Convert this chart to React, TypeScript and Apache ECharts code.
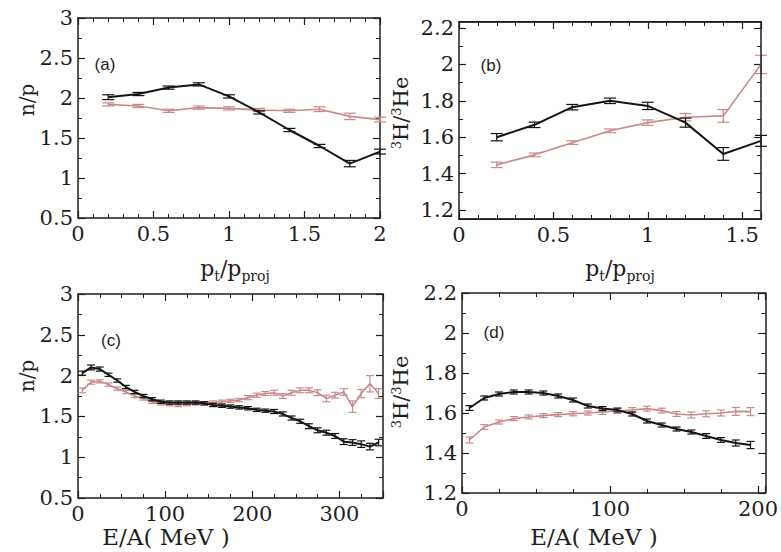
import React, { useEffect, useRef } from 'react';
import * as echarts from 'echarts';

// ---------- data ----------
// (a) n/p vs pt/pproj
const ptA = [0.2, 0.4, 0.6, 0.8, 1.0, 1.2, 1.4, 1.6, 1.8, 2.0];
const npA_black = [2.01, 2.05, 2.13, 2.17, 2.02, 1.82, 1.60, 1.40, 1.18, 1.33];
const npA_blackErr = [0.03, 0.02, 0.02, 0.02, 0.02, 0.02, 0.02, 0.02, 0.04, 0.03];
const npA_red = [1.92, 1.90, 1.84, 1.88, 1.87, 1.85, 1.84, 1.86, 1.77, 1.73];
const npA_redErr = [0.02, 0.02, 0.02, 0.02, 0.02, 0.02, 0.02, 0.03, 0.04, 0.03];

// (b) 3H/3He vs pt/pproj
const ptB = [0.2, 0.4, 0.6, 0.8, 1.0, 1.2, 1.4, 1.6];
const thB_black = [1.60, 1.668, 1.765, 1.80, 1.772, 1.68, 1.508, 1.58];
const thB_blackErr = [0.02, 0.015, 0.015, 0.015, 0.02, 0.025, 0.035, 0.03];
const thB_red = [1.448, 1.503, 1.57, 1.635, 1.68, 1.71, 1.717, 2.0];
const thB_redErr = [0.015, 0.01, 0.01, 0.01, 0.015, 0.02, 0.035, 0.05];

// (c) n/p vs E/A
const eC = [5, 15, 25, 35, 45, 55, 65, 75, 85, 95, 105, 115, 125, 135, 145, 155, 165, 175,
  185, 195, 205, 215, 225, 235, 245, 255, 265, 275, 285, 295, 305, 315, 325, 335, 345];
const npC_black = [2.03, 2.10, 2.08, 2.01, 1.94, 1.86, 1.80, 1.75, 1.71, 1.68, 1.67, 1.67, 1.67,
  1.67, 1.66, 1.64, 1.63, 1.62, 1.61, 1.60, 1.58, 1.57, 1.56, 1.53, 1.48, 1.44, 1.38, 1.33, 1.30,
  1.26, 1.19, 1.18, 1.16, 1.13, 1.18];
const npC_blackErr = [0.025, 0.03, 0.025, 0.02, 0.02, 0.02, 0.02, 0.02, 0.02, 0.02, 0.02, 0.02,
  0.02, 0.02, 0.02, 0.02, 0.02, 0.02, 0.02, 0.02, 0.02, 0.02, 0.025, 0.025, 0.025, 0.025, 0.03,
  0.03, 0.03, 0.03, 0.035, 0.035, 0.04, 0.04, 0.04];
const npC_red = [1.82, 1.92, 1.93, 1.89, 1.84, 1.80, 1.75, 1.72, 1.68, 1.66, 1.65, 1.64, 1.65,
  1.66, 1.66, 1.67, 1.68, 1.69, 1.70, 1.73, 1.76, 1.78, 1.79, 1.75, 1.79, 1.82, 1.82, 1.79, 1.72,
  1.76, 1.80, 1.62, 1.78, 1.90, 1.78];
const npC_redErr = [0.03, 0.025, 0.02, 0.02, 0.02, 0.02, 0.02, 0.02, 0.02, 0.02, 0.02, 0.02, 0.02,
  0.02, 0.02, 0.02, 0.02, 0.02, 0.02, 0.025, 0.025, 0.025, 0.03, 0.03, 0.03, 0.03, 0.03, 0.035,
  0.04, 0.035, 0.04, 0.07, 0.05, 0.1, 0.06];

// (d) 3H/3He vs E/A
const eD = [5, 15, 25, 35, 45, 55, 65, 75, 85, 95, 105, 115, 125, 135, 145, 155, 165, 175, 185, 195];
const thD_black = [1.625, 1.675, 1.695, 1.705, 1.705, 1.70, 1.685, 1.665, 1.635, 1.622, 1.615,
  1.595, 1.56, 1.54, 1.52, 1.505, 1.485, 1.465, 1.45, 1.44];
const thD_blackErr = [0.012, 0.01, 0.01, 0.01, 0.01, 0.01, 0.01, 0.01, 0.01, 0.01, 0.01, 0.01,
  0.01, 0.01, 0.01, 0.01, 0.012, 0.012, 0.015, 0.018];
const thD_red = [1.465, 1.53, 1.555, 1.572, 1.58, 1.587, 1.592, 1.596, 1.60, 1.605, 1.61, 1.615,
  1.622, 1.612, 1.595, 1.59, 1.596, 1.60, 1.608, 1.607];
const thD_redErr = [0.015, 0.012, 0.01, 0.01, 0.01, 0.01, 0.01, 0.01, 0.01, 0.012, 0.012, 0.012,
  0.012, 0.012, 0.012, 0.015, 0.015, 0.015, 0.02, 0.02];

// axis ranges / ticks: [min, max, interval, minor splits]
const xRangeA = [0, 2, 0.5, 5];
const yRangeA = [0.5, 3, 0.5, 2];
const xRangeB = [0, 1.6, 0.5, 5];
const yRangeB = [1.2, 2.2, 0.2, 2];
const xRangeC = [0, 350, 100, 4];
const yRangeC = [0.5, 3, 0.5, 2];
const xRangeD = [0, 205, 100, 4];
const yRangeD = [1.2, 2.2, 0.2, 2];

const FONT = 'DejaVu Serif';
const INK = '#1e1e1e';
const BLACK = '#151515';
const RED = '#c98a8a';

function fmt(interval: number) {
  return (v: number) => {
    const r = v / interval;
    return Math.abs(r - Math.round(r)) < 1e-6 ? String(+v.toFixed(3)) : '';
  };
}

function mkAxis(gridIndex: number, position: string, range: number[], showLabel: boolean, offset = 0, showLine = true) {
  const [min, max, interval, minorSplit] = range;
  return {
    type: 'value',
    gridIndex,
    position,
    min,
    max,
    interval,
    offset,
    axisLine: { show: showLine, onZero: false, lineStyle: { color: INK, width: 1.5 } },
    axisTick: { show: true, inside: true, length: 7, lineStyle: { color: INK, width: 1.2 } },
    minorTick: { show: true, splitNumber: minorSplit, length: 4, lineStyle: { color: INK, width: 1 } },
    splitLine: { show: false },
    minorSplitLine: { show: false },
    axisLabel: {
      show: showLabel,
      margin: 5,
      fontFamily: FONT,
      fontSize: 21,
      color: INK,
      formatter: fmt(interval),
    },
  };
}

function lineSeries(idx: number, xs: number[], ys: number[], color: string, width: number, z: number) {
  return {
    type: 'line',
    xAxisIndex: idx * 2,
    yAxisIndex: idx * 2,
    data: xs.map((x, i) => [x, ys[i]]),
    symbol: 'none',
    lineStyle: { color, width },
    silent: true,
    z,
  };
}

function errSeries(idx: number, xs: number[], ys: number[], errs: number[], color: string, cap: number, z: number) {
  return {
    type: 'custom',
    xAxisIndex: idx * 2,
    yAxisIndex: idx * 2,
    data: xs.map((x, i) => [x, ys[i] - errs[i], ys[i] + errs[i]]),
    encode: { x: 0, y: [1, 2] },
    silent: true,
    z,
    renderItem: (_params: any, api: any) => {
      const x = api.value(0);
      const top = api.coord([x, api.value(2)]);
      const bot = api.coord([x, api.value(1)]);
      const style = { stroke: color, lineWidth: 1.2 };
      return {
        type: 'group',
        children: [
          { type: 'line', shape: { x1: top[0], y1: top[1], x2: bot[0], y2: bot[1] }, style },
          { type: 'line', shape: { x1: top[0] - cap, y1: top[1], x2: top[0] + cap, y2: top[1] }, style },
          { type: 'line', shape: { x1: bot[0] - cap, y1: bot[1], x2: bot[0] + cap, y2: bot[1] }, style },
        ],
      };
    },
  };
}

const subRich = {
  m: { fontFamily: FONT, fontSize: 22, color: INK },
  s: { fontFamily: FONT, fontSize: 14, color: INK, padding: [15, 0, 0, 0] },
};
const supRich = {
  m: { fontFamily: FONT, fontSize: 21, color: INK, lineHeight: 24, verticalAlign: 'top' },
  s: { fontFamily: FONT, fontSize: 13, color: INK, lineHeight: 8, verticalAlign: 'top' },
};

function title(x: number, y: number, text: string, rich: any, rotate = false) {
  return {
    type: 'text',
    x,
    y,
    rotation: rotate ? Math.PI / 2 : 0,
    style: { text, rich, align: 'center', verticalAlign: 'middle', fill: INK },
    silent: true,
  };
}

function plainText(x: number, y: number, text: string, size: number, family: string, rotate = false) {
  return {
    type: 'text',
    x,
    y,
    rotation: rotate ? Math.PI / 2 : 0,
    style: { text, fontSize: size, fontFamily: family, fill: INK, align: 'center', verticalAlign: 'middle' },
    silent: true,
  };
}

export default function App() {
  const ref = useRef<HTMLDivElement>(null);
  useEffect(() => {
    if (!ref.current) return;
    const chart = echarts.init(ref.current, null, { renderer: 'svg' });
    const option = {
      animation: false,
      backgroundColor: '#ffffff',
      grid: [
        { left: 78, top: 18, width: 302, height: 200 },
        { left: 459, top: 28, width: 302, height: 182 },
        { left: 78, top: 294, width: 305, height: 204 },
        { left: 462, top: 293, width: 304, height: 200 },
      ],
      xAxis: [
        mkAxis(0, 'bottom', xRangeA, true),
        mkAxis(0, 'top', xRangeA, false),
        mkAxis(1, 'bottom', xRangeB, true, 9),
        mkAxis(1, 'top', xRangeB, false, 6),
        mkAxis(2, 'bottom', xRangeC, true),
        mkAxis(2, 'top', xRangeC, false),
        mkAxis(3, 'bottom', xRangeD, true),
        mkAxis(3, 'top', xRangeD, false),
      ],
      yAxis: [
        mkAxis(0, 'left', yRangeA, true),
        mkAxis(0, 'right', yRangeA, false),
        mkAxis(1, 'left', yRangeB, true, 0, false),
        mkAxis(1, 'right', yRangeB, false, 0, false),
        mkAxis(2, 'left', yRangeC, true),
        mkAxis(2, 'right', yRangeC, false),
        mkAxis(3, 'left', yRangeD, true),
        mkAxis(3, 'right', yRangeD, false),
      ],
      series: [
        lineSeries(0, ptA, npA_red, RED, 1.6, 2),
        errSeries(0, ptA, npA_red, npA_redErr, RED, 6, 2),
        lineSeries(0, ptA, npA_black, BLACK, 2, 3),
        errSeries(0, ptA, npA_black, npA_blackErr, BLACK, 6, 3),

        lineSeries(1, ptB, thB_red, RED, 1.6, 2),
        errSeries(1, ptB, thB_red, thB_redErr, RED, 6, 2),
        lineSeries(1, ptB, thB_black, BLACK, 2, 3),
        errSeries(1, ptB, thB_black, thB_blackErr, BLACK, 6, 3),

        lineSeries(2, eC, npC_red, RED, 1.6, 2),
        errSeries(2, eC, npC_red, npC_redErr, RED, 4, 2),
        lineSeries(2, eC, npC_black, BLACK, 2, 3),
        errSeries(2, eC, npC_black, npC_blackErr, BLACK, 4, 3),

        lineSeries(3, eD, thD_red, RED, 1.6, 2),
        errSeries(3, eD, thD_red, thD_redErr, RED, 4, 2),
        lineSeries(3, eD, thD_black, BLACK, 2, 3),
        errSeries(3, eD, thD_black, thD_blackErr, BLACK, 4, 3),
      ],
      graphic: [
        // frame of panel (b)
        {
          type: 'rect',
          shape: { x: 459, y: 21.7, width: 302, height: 197.6 },
          style: { fill: 'none', stroke: INK, lineWidth: 1.5 },
          silent: true,
          z: 10,
        },
        plainText(105, 64, '(a)', 17, 'Liberation Sans'),
        plainText(491, 65, '(b)', 17, 'Liberation Sans'),
        plainText(111, 340, '(c)', 17, 'Liberation Sans'),
        plainText(494, 332, '(d)', 17, 'Liberation Sans'),
        plainText(27, 100, 'n/p', 20, FONT, true),
        plainText(27, 376, 'n/p', 20, FONT, true),
        title(402, 113, '{s|3}{m|H/}{s|3}{m|He}', supRich, true),
        title(402, 392, '{s|3}{m|H/}{s|3}{m|He}', supRich, true),
        title(235, 268, '{m|p}{s|t}{m|/p}{s|proj}', subRich),
        title(620, 268, '{m|p}{s|t}{m|/p}{s|proj}', subRich),
        plainText(166, 537, 'E/A( MeV )', 23, FONT),
        plainText(594, 537, 'E/A( MeV )', 23, FONT),
      ],
    };
    chart.setOption(option as any);
    return () => chart.dispose();
  }, []);
  return (
    <div
      ref={ref}
      style={{ position: 'fixed', left: 0, top: 0, width: 781, height: 552, background: '#fff' }}
    />
  );
}
